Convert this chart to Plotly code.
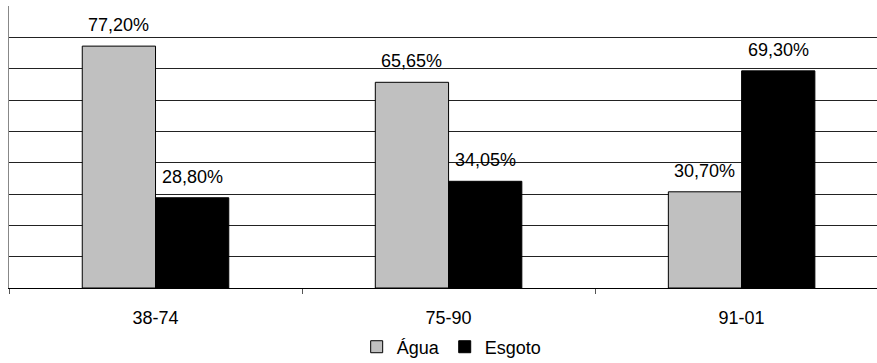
import plotly.graph_objects as go

categories = ["38-74", "75-90", "91-01"]
agua = [77.20, 65.65, 30.70]
esgoto = [28.80, 34.05, 69.30]

FONT = "Liberation Sans, Arial, sans-serif"
SIZE = 18
BAR_HALF = 0.125  # half of one bar's width in category units (bargap 0.5, two bars)


def fmt(v):
    return f"{v:.2f}".replace(".", ",") + "%"


fig = go.Figure()
fig.add_trace(go.Bar(
    name="Água", x=categories, y=agua,
    marker=dict(color="#c0c0c0", line=dict(color="#000000", width=1)),
))
fig.add_trace(go.Bar(
    name="Esgoto", x=categories, y=esgoto,
    marker=dict(color="#000000", line=dict(color="#000000", width=1)),
))

# value labels above each bar
annotations = []
for i, (a, e) in enumerate(zip(agua, esgoto)):
    for off, v in ((-BAR_HALF, a), (BAR_HALF, e)):
        annotations.append(dict(
            x=i + off, y=v, xref="x", yref="y", text=fmt(v),
            showarrow=False, yanchor="bottom", yshift=9,
            font=dict(family=FONT, size=SIZE, color="#000000"),
        ))

fig.update_layout(
    width=877, height=363,
    margin=dict(l=9, r=0, t=6, b=75, autoexpand=False),
    paper_bgcolor="white", plot_bgcolor="white",
    barmode="group", bargap=0.5, bargroupgap=0,
    font=dict(family=FONT, size=SIZE, color="#000000"),
    showlegend=True,
    legend=dict(orientation="h", x=0.51, xanchor="center",
                yref="container", y=0.044, yanchor="middle",
                font=dict(family=FONT, size=SIZE), traceorder="normal",
                itemwidth=30, tracegroupgap=0),
    annotations=annotations,
)
fig.update_xaxes(
    type="category", range=[-0.5, 2.462],
    showline=True, linecolor="#000000", linewidth=1,
    ticks="outside", tickson="boundaries", ticklen=5, tickcolor="#555555",
    ticklabelstandoff=13,
    showgrid=False, tickfont=dict(family=FONT, size=SIZE),
)
fig.update_yaxes(
    range=[0, 90], dtick=10, showticklabels=False,
    showgrid=True, gridcolor="#222222", gridwidth=1,
    showline=True, linecolor="#888888", linewidth=1, zeroline=False,
)

fig.write_html("out.html")
